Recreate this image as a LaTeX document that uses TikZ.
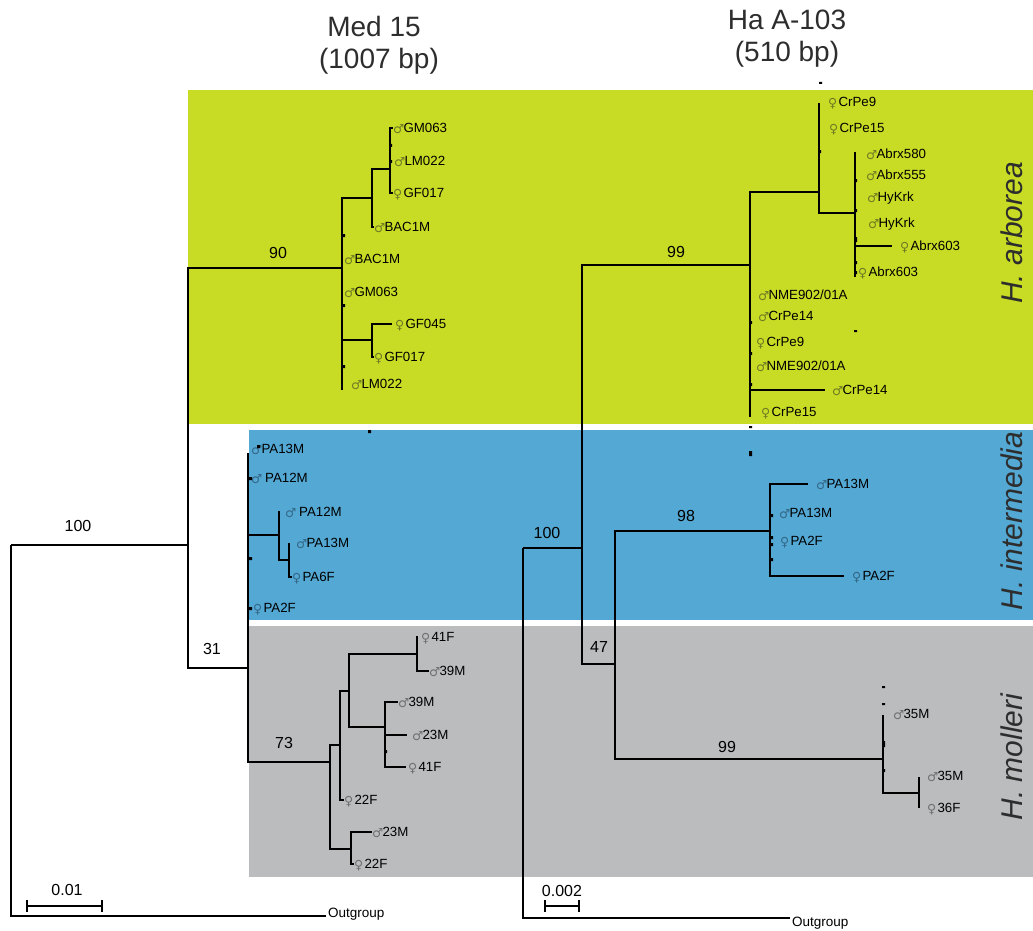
\documentclass[tikz,border=0pt]{standalone}
\usepackage{fontspec}
\setmainfont{Liberation Sans}
\newfontfamily\symfont{DejaVu Sans}
\usepackage{xcolor}
\usepackage{tikz}
\usetikzlibrary{arrows.meta}

\definecolor{bandgreen}{RGB}{200,220,38}
\definecolor{bandblue}{RGB}{84,168,212}
\definecolor{bandgray}{RGB}{187,188,190}
\definecolor{symgreen}{RGB}{112,124,36}
\definecolor{symblue}{RGB}{52,104,136}
\definecolor{symgray}{RGB}{112,112,114}
\definecolor{headtext}{RGB}{45,45,45}
\colorlet{symcol}{black}
\newcommand{\gendersym}[1]{\makebox[10.3pt][l]{\fontsize{12.5}{14}\symfont\color{symcol}\raisebox{-1pt}{#1}}}
\newcommand{\mal}{\gendersym{♂}}
\newcommand{\fem}{\gendersym{♀}}

\begin{document}
\begin{tikzpicture}[
    x=1pt, y=-1pt,
    branch/.style={line width=2.5pt, black},
    tip/.style={anchor=west, inner sep=0pt, text height=11.5pt, text depth=2pt, font=\fontsize{13.3}{14}\selectfont},
    tipg/.style={tip, execute at begin node=\colorlet{symcol}{symgreen}},
    tipb/.style={tip, execute at begin node=\colorlet{symcol}{symblue}},
    tipk/.style={tip, execute at begin node=\colorlet{symcol}{symgray}},
    boot/.style={inner sep=0pt, font=\fontsize{16}{16}\selectfont},
    title/.style={inner sep=0pt, text=headtext, font=\fontsize{28}{30}\selectfont},
    species/.style={inner sep=0pt, rotate=90, text=headtext, font=\fontsize{30}{30}\selectfont\itshape},
    outg/.style={anchor=west, inner sep=0pt, font=\fontsize{13.5}{14}\selectfont},
    scalebar/.style={line width=2.2pt, {Bar[width=12pt]}-{Bar[width=12pt]}}
]
    \useasboundingbox (0,0) rectangle (1033,931);

    % Colour bands
    \fill[bandgreen] (188,90) rectangle (1033,424);
    \fill[bandblue] (249,430) rectangle (1033,620);
    \fill[bandgray] (249,626) rectangle (1033,877);

    % Titles
    \node[title] (medname) at (374,26) {Med 15};
    \node[title] (medlen) at (379,61) {(1007 bp)};
    \node[title] (haname) at (787,20) {Ha A-103};
    \node[title] (halen) at (787,54) {(510 bp)};

    % Species names
    \node[species] (arborea) at (1012,233) {H. arborea};
    \node[species] (intermedia) at (1012,521) {H. intermedia};
    \node[species] (molleri) at (1012,757) {H. molleri};

    % Med 15 junctions
    \coordinate (mr) at (11,545);
    \coordinate (mout) at (326,916);
    \coordinate (ma) at (188,545);
    \coordinate (mb) at (342,268);
    \coordinate (mc) at (248,668);
    \coordinate (md) at (372,198);
    \coordinate (me) at (390,169);
    \coordinate (mf) at (372,340);
    \coordinate (mbend) at (342,390);
    \coordinate (mctop) at (248,453);
    \coordinate (mg) at (279,535);
    \coordinate (mgtop) at (279,511);
    \coordinate (mh) at (330,762);
    \coordinate (mi) at (289,560);
    \coordinate (mitop) at (289,543);
    \coordinate (mj) at (340,745);
    \coordinate (mk) at (351,849);
    \coordinate (ml) at (349,691);
    \coordinate (mm) at (417,654);
    \coordinate (mmtop) at (417,636);
    \coordinate (mn) at (385,727);

    % Med 15 tips, H. arborea
    \node[tipg] (mgm1) at (393,128) {\mal GM063};
    \node[tipg] (mlm1) at (394,161) {\mal LM022};
    \node[tipg] (mgf1) at (393,193) {\fem GF017};
    \node[tipg] (mbac1) at (374,227) {\mal BAC1M};
    \node[tipg] (mbac2) at (344,259) {\mal BAC1M};
    \node[tipg] (mgm2) at (344,292) {\mal GM063};
    \node[tipg] (mgf2) at (395,324) {\fem GF045};
    \node[tipg] (mgf3) at (374,357) {\fem GF017};
    \node[tipg] (mlm2) at (351,384) {\mal LM022};

    % Med 15 tips, H. intermedia
    \node[tipb] (mpa1) at (251,449) {\mal PA13M};
    \node[tipb] (mpa2) at (251,478) {\mal\ PA12M};
    \node[tipb] (mpa3) at (285,512) {\mal\ PA12M};
    \node[tipb] (mpa4) at (296,543) {\mal PA13M};
    \node[tipb] (mpa5) at (292,577) {\fem PA6F};
    \node[tipb] (mpa6) at (253,608) {\fem PA2F};

    % Med 15 tips, H. molleri
    \node[tipk] (m41a) at (421,637) {\fem 41F};
    \node[tipk] (m39a) at (429,671) {\mal 39M};
    \node[tipk] (m39b) at (398,702) {\mal 39M};
    \node[tipk] (m23a) at (412,735) {\mal 23M};
    \node[tipk] (m41b) at (408,767) {\fem 41F};
    \node[tipk] (m22a) at (344,800) {\fem 22F};
    \node[tipk] (m23b) at (372,832) {\mal 23M};
    \node[tipk] (m22b) at (354,864) {\fem 22F};

    % Med 15 branches
    \draw[branch] (mr) |- (mout);
    \draw[branch] (mr) |- (ma);
    \draw[branch] (ma) |- (mb);
    \draw[branch] (ma) |- (mc);
    \draw[branch] (mb) |- (md);
    \draw[branch] (mb) |- (mf);
    \draw[branch] (mb) |- (mbend);
    \draw[branch] (md) |- (me);
    \draw[branch] (md) |- (mbac1);
    \draw[branch] (me) |- (mgm1);
    \draw[branch] (me) |- (mgf1);
    \draw[branch, shorten >=3pt] (mf) |- (mgf2);
    \draw[branch] (mf) |- (mgf3);
    \draw[branch] (mc) |- (mctop);
    \draw[branch] (mc) |- (mg);
    \draw[branch] (mc) |- (mh);
    \draw[branch] (mg) |- (mgtop);
    \draw[branch] (mg) |- (mi);
    \draw[branch] (mi) |- (mitop);
    \draw[branch] (mi) |- (mpa5);
    \draw[branch] (mh) |- (mj);
    \draw[branch] (mh) |- (mk);
    \draw[branch] (mj) |- (ml);
    \draw[branch] (mj) |- (m22a);
    \draw[branch] (ml) |- (mm);
    \draw[branch] (ml) |- (mn);
    \draw[branch] (mm) |- (mmtop);
    \draw[branch] (mm) |- (m39a);
    \draw[branch] (mn) |- (m39b);
    \draw[branch, shorten >=5pt] (mn) |- (m23a);
    \draw[branch, shorten >=2pt] (mn) |- (m41b);
    \draw[branch] (mk) |- (m23b);
    \draw[branch] (mk) |- (m22b);

    % Med 15 support values
    \node[boot] (m100) at (78,526) {100};
    \node[boot] (m90) at (278,253) {90};
    \node[boot] (m31) at (212,649) {31};
    \node[boot] (m73) at (284,743) {73};

    % Med 15 outgroup and scale
    \node[outg] (moutlabel) at (328,914) {Outgroup};
    \node[boot] (mscale) at (67,890) {0.01};
    \coordinate (msa) at (26,906);
    \coordinate (msb) at (103,906);
    \draw[scalebar] (msa) -- (msb);

    % Ha A-103 junctions
    \coordinate (hr) at (523,548);
    \coordinate (hout) at (790,918);
    \coordinate (ha) at (582,548);
    \coordinate (hb) at (750,265);
    \coordinate (hc) at (615,664);
    \coordinate (hd) at (819,192);
    \coordinate (hbend) at (750,417);
    \coordinate (hdtop) at (819,103);
    \coordinate (he) at (855,213);
    \coordinate (hetop) at (855,152);
    \coordinate (heend) at (855,277);
    \coordinate (hf) at (770,531);
    \coordinate (hg) at (883,759);
    \coordinate (hgtop) at (883,715);
    \coordinate (hi) at (919,793);
    \coordinate (hitop) at (919,777);
    \coordinate (hiend) at (919,808);

    % Ha A-103 tips, H. arborea
    \node[tipg] (hcr1) at (828,102) {\fem CrPe9};
    \node[tipg] (hcr2) at (829,128) {\fem CrPe15};
    \node[tipg] (hab1) at (866,154) {\mal Abrx580};
    \node[tipg] (hab2) at (866,175) {\mal Abrx555};
    \node[tipg] (hhy1) at (867,197) {\mal HyKrk};
    \node[tipg] (hhy2) at (868,223) {\mal HyKrk};
    \node[tipg] (hab3) at (900,246) {\fem Abrx603};
    \node[tipg] (hab4) at (858,272) {\fem Abrx603};
    \node[tipg] (hnm1) at (758,295) {\mal NME902/01A};
    \node[tipg] (hcr3) at (758,316) {\mal CrPe14};
    \node[tipg] (hcr4) at (756,342) {\fem CrPe9};
    \node[tipg] (hnm2) at (756,366) {\mal NME902/01A};
    \node[tipg] (hcr5) at (832,390) {\mal CrPe14};
    \node[tipg] (hcr6) at (761,412) {\fem CrPe15};

    % Ha A-103 tips, H. intermedia
    \node[tipb] (hpa1) at (816,484) {\mal PA13M};
    \node[tipb] (hpa2) at (779,513) {\mal PA13M};
    \node[tipb] (hpa3) at (780,541) {\fem PA2F};
    \node[tipb] (hpa4) at (852,576) {\fem PA2F};

    % Ha A-103 tips, H. molleri
    \node[tipk] (h35a) at (893,714) {\mal 35M};
    \node[tipk] (h35b) at (927,776) {\mal 35M};
    \node[tipk] (h36) at (927,808) {\fem 36F};

    % Ha A-103 branches
    \draw[branch] (hr) |- (hout);
    \draw[branch] (hr) |- (ha);
    \draw[branch] (ha) |- (hb);
    \draw[branch] (ha) |- (hc);
    \draw[branch] (hb) |- (hd);
    \draw[branch] (hb) |- (hbend);
    \draw[branch, shorten >=7pt] (hb) |- (hcr5);
    \draw[branch] (hd) |- (hdtop);
    \draw[branch] (hd) |- (he);
    \draw[branch] (he) |- (hetop);
    \draw[branch] (he) |- (heend);
    \draw[branch, shorten >=8pt] (he) |- (hab3);
    \draw[branch] (hc) |- (hf);
    \draw[branch] (hc) |- (hg);
    \draw[branch, shorten >=8pt] (hf) |- (hpa1);
    \draw[branch, shorten >=8pt] (hf) |- (hpa4);
    \draw[branch] (hg) |- (hgtop);
    \draw[branch] (hg) |- (hi);
    \draw[branch] (hi) |- (hitop);
    \draw[branch] (hi) |- (hiend);

    % Ha A-103 support values
    \node[boot] (h100) at (547,533) {100};
    \node[boot] (h99a) at (676,252) {99};
    \node[boot] (h47) at (599,647) {47};
    \node[boot] (h98) at (686,516) {98};
    \node[boot] (h99b) at (727,747) {99};

    % Ha A-103 outgroup and scale
    \node[outg] (houtlabel) at (792,923) {Outgroup};
    \node[boot] (hscale) at (562,891) {0.002};
    \coordinate (hsa) at (544,906);
    \coordinate (hsb) at (580,906);
    \draw[scalebar] (hsa) -- (hsb);

    % Small ticks left on the trees
    \fill (342,234) rectangle ++(3,3) (342,304) rectangle ++(3,3) (342,365) rectangle ++(3,3)
        (390,144) rectangle ++(2,3) (390,160) rectangle ++(2,3)
        (249,477) rectangle ++(3,3) (249,557) rectangle ++(3,3) (249,607) rectangle ++(3,3)
        (257,445) rectangle ++(3,3) (368,430) rectangle ++(3,3) (385,750) rectangle ++(2,3)
        (750,321) rectangle ++(2,3) (750,352) rectangle ++(2,3) (750,383) rectangle ++(2,3)
        (749,426) rectangle ++(3,2) (749,451) rectangle ++(3,5) (819,82) rectangle ++(3,2)
        (854,330) rectangle ++(3,2) (819,150) rectangle ++(2,3) (855,179) rectangle ++(2,3)
        (855,209) rectangle ++(2,3) (855,237) rectangle ++(2,5) (855,261) rectangle ++(2,3)
        (855,271) rectangle ++(2,3) (771,514) rectangle ++(2,3) (771,536) rectangle ++(2,3)
        (771,543) rectangle ++(2,3) (771,558) rectangle ++(2,3)
        (882,686) rectangle ++(3,2) (882,703) rectangle ++(3,2) (883,741) rectangle ++(2,6)
        (883,769) rectangle ++(2,3);
\end{tikzpicture}
\end{document}
